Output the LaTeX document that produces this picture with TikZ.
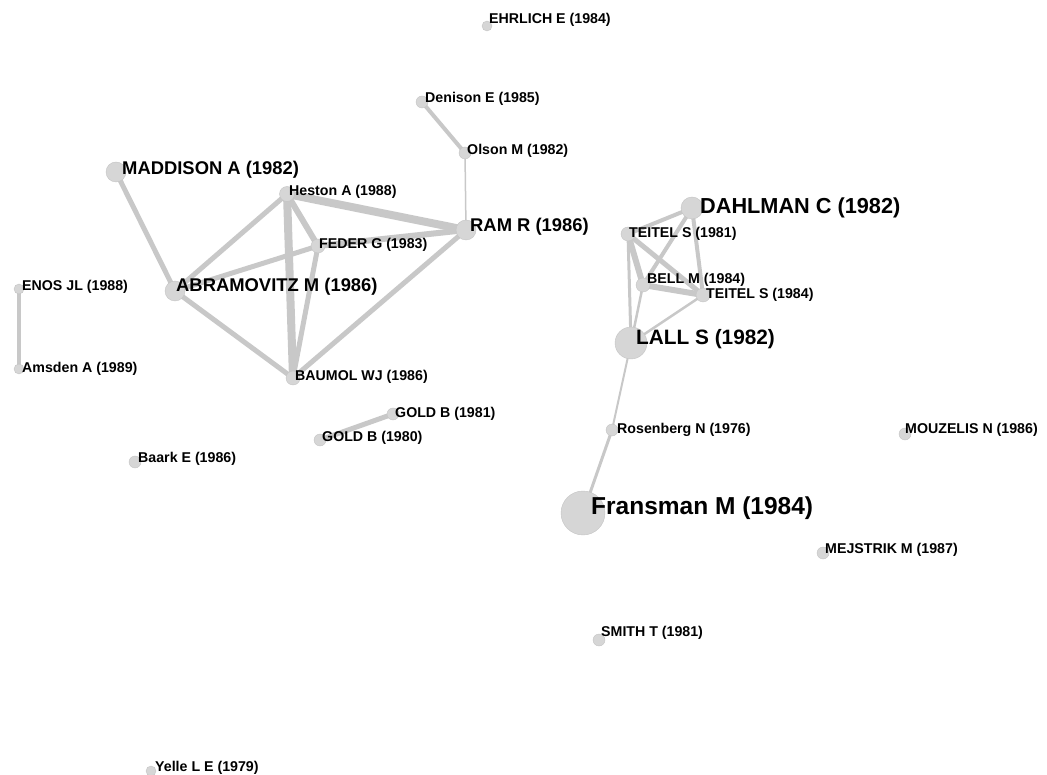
\documentclass[tikz,border=0pt]{standalone}
\usepackage{fontspec}
\setmainfont{Liberation Sans}
\pgfdeclarelayer{bg}
\pgfsetlayers{bg,main}
\definecolor{nodegray}{RGB}{214,214,214}
\definecolor{ringgray}{RGB}{196,196,196}
\definecolor{edgegray}{RGB}{200,200,200}
\tikzset{
  vert/.style={circle, fill=nodegray, draw=ringgray, line width=0.4pt, inner sep=0pt, minimum size=#1},
  lab/.style={anchor=west, inner sep=0pt, font=\bfseries\fontsize{14.2}{15}\selectfont, text=black},
  biglab/.style={anchor=west, inner sep=0pt, font=\bfseries\fontsize{#1}{#1}\selectfont, text=black},
  edge/.style={draw=edgegray, line width=#1, line cap=round},
}
\begin{document}
\begin{tikzpicture}[x=1pt, y=-1pt]
\useasboundingbox (0,0) rectangle (1047,775);
% vertices
\node[vert=10] (ehrlich) at (487,26) {};
\node[vert=12] (denison) at (422,102) {};
\node[vert=12] (olson) at (465,153) {};
\node[vert=20] (maddison) at (116,172) {};
\node[vert=15] (heston) at (287,194) {};
\node[vert=20] (ram) at (466,230) {};
\node[vert=14] (feder) at (318,246) {};
\node[vert=20] (abramovitz) at (175,291) {};
\node[vert=10] (enos) at (19,289) {};
\node[vert=10] (amsden) at (19,369) {};
\node[vert=14] (baumol) at (293,378) {};
\node[vert=12] (goldA) at (393,414) {};
\node[vert=12] (goldB) at (320,440) {};
\node[vert=12] (baark) at (135,462) {};
\node[vert=22] (dahlman) at (692,208) {};
\node[vert=14] (teitelA) at (628,234) {};
\node[vert=14] (bell) at (643,285) {};
\node[vert=14] (teitelB) at (703,295) {};
\node[vert=32] (lall) at (631,343) {};
\node[vert=12] (rosenberg) at (612,430) {};
\node[vert=44] (fransman) at (583,513) {};
\node[vert=12] (mouzelis) at (905,434) {};
\node[vert=12] (mejstrik) at (823,553) {};
\node[vert=12] (smith) at (599,640) {};
\node[vert=10] (yelle) at (151,771) {};
% edges
\begin{pgfonlayer}{bg}
\draw[edge=4] (denison.center) -- (olson.center);
\draw[edge=1.5] (olson.center) -- (ram.center);
\draw[edge=5] (maddison.center) -- (abramovitz.center);
\draw[edge=8] (heston.center) -- (ram.center);
\draw[edge=5] (heston.center) -- (abramovitz.center);
\draw[edge=6] (heston.center) -- (feder.center);
\draw[edge=8] (heston.center) -- (baumol.center);
\draw[edge=5] (feder.center) -- (abramovitz.center);
\draw[edge=6] (feder.center) -- (ram.center);
\draw[edge=5] (feder.center) -- (baumol.center);
\draw[edge=5] (abramovitz.center) -- (baumol.center);
\draw[edge=5] (ram.center) -- (baumol.center);
\draw[edge=3.5] (enos.center) -- (amsden.center);
\draw[edge=5] (goldA.center) -- (goldB.center);
\draw[edge=4] (teitelA.center) -- (dahlman.center);
\draw[edge=4] (dahlman.center) -- (teitelB.center);
\draw[edge=4] (dahlman.center) -- (bell.center);
\draw[edge=6] (teitelA.center) -- (bell.center);
\draw[edge=5] (teitelA.center) -- (teitelB.center);
\draw[edge=6] (bell.center) -- (teitelB.center);
\draw[edge=3] (teitelA.center) -- (lall.center);
\draw[edge=2.5] (bell.center) -- (lall.center);
\draw[edge=2.5] (teitelB.center) -- (lall.center);
\draw[edge=2] (lall.center) -- (rosenberg.center);
\draw[edge=3] (rosenberg.center) -- (fransman.center);
\end{pgfonlayer}
% labels
\node[lab] (ehrlich-l) at (489,20) {EHRLICH E (1984)};
\node[lab] (denison-l) at (425,99) {Denison E (1985)};
\node[lab] (olson-l) at (467,151) {Olson M (1982)};
\node[biglab=18.4] (maddison-l) at (122,170) {MADDISON A (1982)};
\node[lab] (heston-l) at (289,192) {Heston A (1988)};
\node[biglab=18.4] (ram-l) at (470,227) {RAM R (1986)};
\node[lab] (feder-l) at (319,245) {FEDER G (1983)};
\node[biglab=18.4] (abramovitz-l) at (176,287) {ABRAMOVITZ M (1986)};
\node[lab] (enos-l) at (22,287) {ENOS JL (1988)};
\node[lab] (amsden-l) at (22,369) {Amsden A (1989)};
\node[lab] (baumol-l) at (295,377) {BAUMOL WJ (1986)};
\node[lab] (goldA-l) at (395,414) {GOLD B (1981)};
\node[lab] (goldB-l) at (322,438) {GOLD B (1980)};
\node[lab] (baark-l) at (138,459) {Baark E (1986)};
\node[biglab=21.7] (dahlman-l) at (700,208) {DAHLMAN C (1982)};
\node[lab] (teitelA-l) at (629,234) {TEITEL S (1981)};
\node[lab] (teitelB-l) at (706,294.8) {TEITEL S (1984)};
\node[lab] (bell-l) at (647,279.8) {BELL M (1984)};
\node[biglab=20.8] (lall-l) at (636,339) {LALL S (1982)};
\node[lab] (rosenberg-l) at (617,430) {Rosenberg N (1976)};
\node[biglab=24.5] (fransman-l) at (591,508) {Fransman M (1984)};
\node[lab] (mouzelis-l) at (905,430) {MOUZELIS N (1986)};
\node[lab] (mejstrik-l) at (825,550) {MEJSTRIK M (1987)};
\node[lab] (smith-l) at (601,633) {SMITH T (1981)};
\node[lab] (yelle-l) at (155,768) {Yelle L E (1979)};
\end{tikzpicture}
\end{document}
